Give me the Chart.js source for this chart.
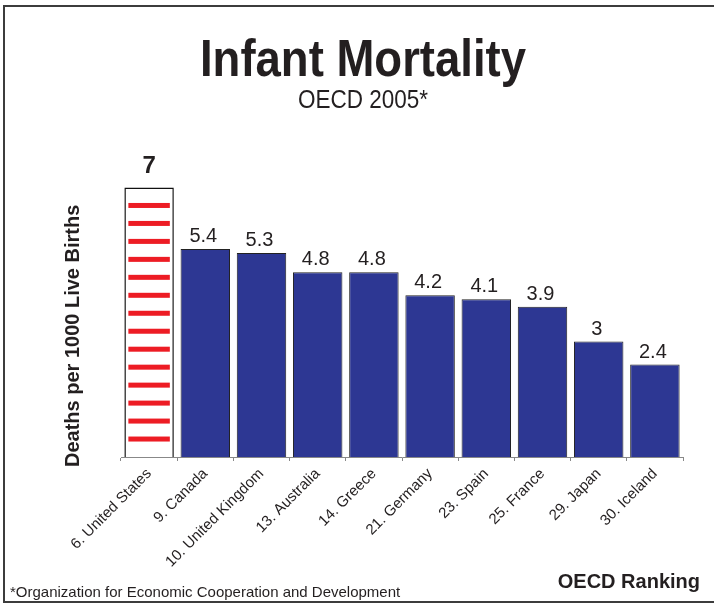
<!DOCTYPE html>
<html>
<head>
<meta charset="utf-8">
<script src="https://cdn.jsdelivr.net/npm/chart.js@4.4.1/dist/chart.umd.min.js"></script>
<style>
  body { margin: 0; background: #fff; }
  #wrap { width: 714px; height: 603px; }
</style>
</head>
<body>
<div id="wrap"><canvas id="chart" width="714" height="603"></canvas></div>
<script>
const categories = ["6. United States", "9. Canada", "10. United Kingdom", "13. Australia", "14. Greece",
                    "21. Germany", "23. Spain", "25. France", "29. Japan", "30. Iceland"];
const deaths = [7, 5.4, 5.3, 4.8, 4.8, 4.2, 4.1, 3.9, 3, 2.4];

const NAVY = "#2D3793";
const TEXT = "#231F20";
const SANS = "'Liberation Sans', Arial, Helvetica, sans-serif";

// text squeezed sideways, the original uses a condensed face
function narrowText(ctx, text, x, y, squeeze) {
    ctx.save();
    ctx.translate(x, y);
    ctx.scale(squeeze, 1);
    ctx.fillText(text, 0, 0);
    ctx.restore();
}

// frame, titles, red stripes on the US bar, value labels, footer texts
const extras = {
    id: "extras",
    beforeDraw(chart) {
        const ctx = chart.ctx;
        ctx.save();
        ctx.fillStyle = "#fff";
        ctx.fillRect(0, 0, chart.width, chart.height);
        ctx.strokeStyle = "#3c3c3c";
        ctx.lineWidth = 2;
        ctx.strokeRect(4, 6, chart.width + 10, chart.height - 7);

        ctx.fillStyle = TEXT;
        ctx.textAlign = "center";
        ctx.textBaseline = "alphabetic";
        ctx.font = "bold 52px " + SANS;
        narrowText(ctx, "Infant Mortality", 363, 76, 0.875);
        ctx.font = "25px " + SANS;
        narrowText(ctx, "OECD 2005*", 363, 108, 0.9);

        // y axis title
        ctx.font = "bold 20px " + SANS;
        ctx.textAlign = "left";
        ctx.translate(79, 467);
        ctx.rotate(-Math.PI / 2);
        ctx.fillText("Deaths per 1000 Live Births", 0, 0);
        ctx.restore();
    },
    afterDatasetsDraw(chart) {
        const ctx = chart.ctx;
        const bars = chart.getDatasetMeta(0).data;
        ctx.save();
        const us = bars[0];
        const h = us.base - us.y;
        const left = us.x - us.width / 2 + 4;
        const w = us.width - 8;
        ctx.fillStyle = "#ED1C24";
        for (let i = 1; i <= 14; i++) {
            const cy = us.y + (i * h) / 15;
            ctx.fillRect(left, cy - 2.5, w, 5);
        }
        ctx.fillStyle = TEXT;
        ctx.textAlign = "center";
        ctx.textBaseline = "alphabetic";
        bars.forEach((bar, i) => {
            if (i === 0) {
                ctx.font = "bold 24px " + SANS;
                ctx.fillText(String(deaths[i]), bar.x, bar.y - 15);
            } else {
                ctx.font = "20px " + SANS;
                ctx.fillText(String(deaths[i]), bar.x - 2, bar.y - 7);
            }
        });
        ctx.restore();
    },
    afterDraw(chart) {
        const ctx = chart.ctx;
        ctx.save();
        ctx.fillStyle = TEXT;
        ctx.textBaseline = "alphabetic";
        ctx.textAlign = "left";
        ctx.font = "15px " + SANS;
        ctx.fillText("*Organization for Economic Cooperation and Development", 10, 597);
        ctx.textAlign = "right";
        ctx.font = "bold 20px " + SANS;
        ctx.fillText("OECD Ranking", 700, 588);
        ctx.restore();
    }
};

new Chart(document.getElementById("chart"), {
    type: "bar",
    data: {
        labels: categories,
        datasets: [{
            data: deaths,
            backgroundColor: deaths.map((v, i) => (i === 0 ? "#ffffff" : NAVY)),
            borderColor: deaths.map((v, i) => (i === 0 ? "#111" : "#222")),
            borderWidth: deaths.map((v, i) => (i === 0 ? 1.5 : 1)),
            barPercentage: 0.88,
            categoryPercentage: 1,
        }],
    },
    options: {
        responsive: false,
        animation: false,
        events: [],
        layout: { padding: { left: 0, right: 31, top: 149, bottom: 0 } },
        scales: {
            x: {
                grid: { drawOnChartArea: false, offset: true, tickLength: 4, color: "#888" },
                border: { color: "#888", width: 1 },
                ticks: {
                    minRotation: 45,
                    maxRotation: 45,
                    padding: 4,
                    color: TEXT,
                    font: { family: SANS, size: 15 },
                },
                afterFit: (scale) => { scale.height = 146; },
            },
            y: {
                min: 0,
                max: 8,
                grid: { display: false },
                border: { display: false },
                ticks: { display: false },
                afterFit: (scale) => { scale.width = 121; },
            },
        },
        plugins: {
            legend: { display: false },
            tooltip: { enabled: false },
        },
    },
    plugins: [extras],
});
</script>
</body>
</html>
